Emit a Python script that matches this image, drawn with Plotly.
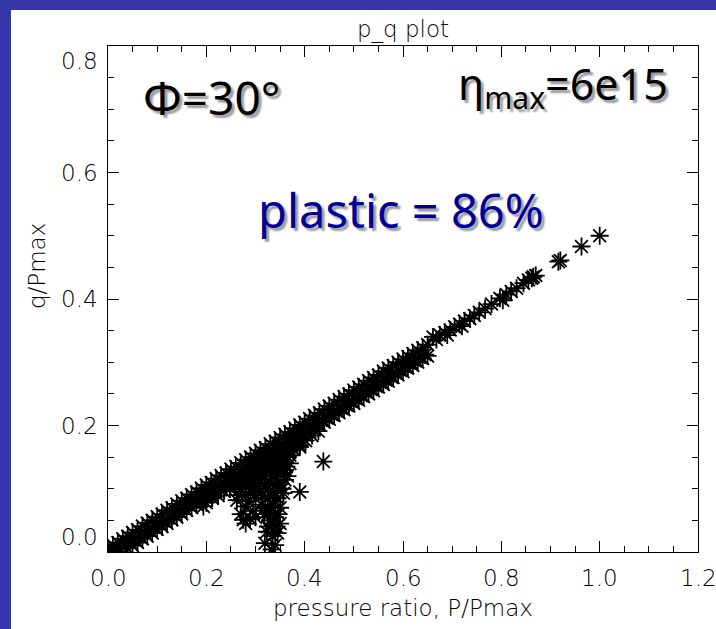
import plotly.graph_objects as go

# ---- data: normalised pressure p = P/Pmax and deviator q/Pmax ----
# upper edge of the main band
p_band_upper = [0.000, 0.010, 0.020, 0.030, 0.040, 0.050, 0.060, 0.070, 0.080, 0.090,
                0.100, 0.110, 0.120, 0.130, 0.140, 0.150, 0.160, 0.170, 0.180, 0.190,
                0.200, 0.210, 0.220, 0.230, 0.240, 0.250, 0.260, 0.270, 0.280, 0.290,
                0.300, 0.310, 0.320, 0.330, 0.340, 0.350, 0.360, 0.370, 0.380, 0.390,
                0.400, 0.410, 0.420, 0.430, 0.440, 0.450, 0.460, 0.470, 0.480, 0.490,
                0.500, 0.510, 0.520, 0.530, 0.540, 0.550, 0.560, 0.570, 0.580, 0.590,
                0.600, 0.610, 0.620, 0.630, 0.640, 0.650]
q_band_upper = [0.005, 0.011, 0.015, 0.021, 0.025, 0.031, 0.035, 0.041, 0.046, 0.050,
                0.056, 0.060, 0.066, 0.070, 0.076, 0.081, 0.085, 0.091, 0.095, 0.101,
                0.106, 0.110, 0.116, 0.121, 0.125, 0.131, 0.135, 0.141, 0.146, 0.150,
                0.156, 0.161, 0.165, 0.171, 0.175, 0.181, 0.186, 0.190, 0.196, 0.201,
                0.205, 0.211, 0.216, 0.220, 0.226, 0.231, 0.235, 0.241, 0.246, 0.250,
                0.256, 0.261, 0.265, 0.271, 0.276, 0.280, 0.286, 0.291, 0.295, 0.300,
                0.305, 0.309, 0.314, 0.319, 0.323, 0.328]

# middle of the main band
p_band_mid = [0.005, 0.015, 0.025, 0.035, 0.045, 0.055, 0.065, 0.075, 0.085, 0.095,
              0.105, 0.115, 0.125, 0.135, 0.145, 0.155, 0.165, 0.175, 0.185, 0.195,
              0.205, 0.215, 0.225, 0.235, 0.245, 0.255, 0.265, 0.275, 0.285, 0.295,
              0.305, 0.315, 0.325, 0.335, 0.345, 0.355, 0.365, 0.375, 0.385, 0.395,
              0.405, 0.415, 0.425, 0.435, 0.445, 0.455, 0.465, 0.475, 0.485, 0.495,
              0.505, 0.515, 0.525, 0.535, 0.545, 0.555, 0.565, 0.575, 0.585, 0.595,
              0.605, 0.615, 0.625, 0.635, 0.645]
q_band_mid = [0.000, 0.001, 0.005, 0.009, 0.015, 0.019, 0.024, 0.030, 0.034, 0.039,
              0.045, 0.049, 0.054, 0.060, 0.064, 0.069, 0.075, 0.079, 0.084, 0.090,
              0.093, 0.099, 0.104, 0.108, 0.113, 0.119, 0.123, 0.128, 0.134, 0.138,
              0.143, 0.149, 0.152, 0.158, 0.163, 0.168, 0.173, 0.178, 0.183, 0.187,
              0.193, 0.197, 0.202, 0.208, 0.212, 0.217, 0.223, 0.227, 0.232, 0.238,
              0.242, 0.247, 0.253, 0.257, 0.262, 0.268, 0.272, 0.277, 0.283, 0.287,
              0.292, 0.298, 0.302, 0.308, 0.312]

# lower edge of the main band
p_band_lower = [0.040, 0.050, 0.060, 0.070, 0.080, 0.090, 0.100, 0.110, 0.120, 0.130,
                0.140, 0.150, 0.160, 0.170, 0.180, 0.190, 0.200, 0.210, 0.220, 0.230,
                0.240, 0.250, 0.260, 0.270, 0.280, 0.290, 0.300, 0.310, 0.320, 0.330,
                0.340, 0.350, 0.360, 0.370, 0.380, 0.390, 0.400, 0.410, 0.420, 0.430,
                0.440, 0.450, 0.460, 0.470, 0.480, 0.490, 0.500, 0.510, 0.520, 0.530,
                0.540, 0.550, 0.560, 0.570, 0.580, 0.590, 0.600, 0.610, 0.620, 0.630,
                0.640, 0.650]
q_band_lower = [0.006, 0.010, 0.015, 0.021, 0.025, 0.030, 0.036, 0.040, 0.045, 0.051,
                0.055, 0.060, 0.066, 0.070, 0.075, 0.081, 0.085, 0.090, 0.096, 0.100,
                0.105, 0.111, 0.115, 0.120, 0.126, 0.130, 0.135, 0.141, 0.145, 0.150,
                0.156, 0.160, 0.165, 0.171, 0.175, 0.180, 0.186, 0.190, 0.195, 0.201,
                0.205, 0.210, 0.216, 0.220, 0.225, 0.231, 0.235, 0.240, 0.246, 0.250,
                0.255, 0.261, 0.265, 0.270, 0.276, 0.280, 0.285, 0.291, 0.295, 0.300,
                0.306, 0.310]

# thickened part of the band
p_band_thick = [0.200, 0.212, 0.224, 0.236, 0.248, 0.258, 0.268, 0.278, 0.288, 0.298,
                0.308, 0.318, 0.328, 0.338, 0.348, 0.358, 0.368, 0.378, 0.390, 0.402,
                0.415, 0.428]
q_band_thick = [0.078, 0.085, 0.089, 0.096, 0.100, 0.105, 0.108, 0.114, 0.118, 0.122,
                0.127, 0.131, 0.136, 0.141, 0.146, 0.151, 0.157, 0.162, 0.169, 0.176,
                0.184, 0.191]

# points that dropped below the band
p_cluster = [0.194, 0.262, 0.265, 0.270, 0.275, 0.280, 0.289, 0.290, 0.296, 0.300,
             0.305, 0.309, 0.312, 0.318, 0.319, 0.323, 0.326, 0.330, 0.333, 0.335,
             0.337, 0.340, 0.342, 0.343, 0.345, 0.347, 0.350, 0.350, 0.352, 0.355,
             0.357, 0.360, 0.363, 0.365, 0.370, 0.372, 0.390, 0.390, 0.438, 0.333,
             0.325, 0.330, 0.340, 0.335, 0.320, 0.345, 0.340, 0.330, 0.350, 0.328,
             0.318, 0.310, 0.300, 0.290, 0.280, 0.270, 0.355, 0.360, 0.345, 0.325,
             0.260, 0.270, 0.280, 0.290, 0.300, 0.310, 0.320, 0.330, 0.340, 0.350,
             0.360, 0.365, 0.370, 0.300, 0.310, 0.320, 0.330, 0.340, 0.350, 0.360,
             0.370, 0.375, 0.380, 0.325, 0.335, 0.345, 0.355, 0.340, 0.330, 0.345,
             0.335, 0.325, 0.315, 0.320, 0.310, 0.280, 0.285, 0.270, 0.280, 0.295,
             0.300]
q_cluster = [0.072, 0.082, 0.090, 0.100, 0.051, 0.072, 0.053, 0.095, 0.109, 0.085,
             0.100, 0.114, 0.075, 0.060, 0.014, 0.032, 0.061, 0.090, 0.045, 0.120,
             0.075, 0.011, 0.140, 0.040, 0.100, 0.060, 0.045, 0.140, 0.160, 0.125,
             0.093, 0.114, 0.135, 0.150, 0.153, 0.170, 0.166, 0.095, 0.143, 0.004,
             0.100, 0.130, 0.080, 0.150, 0.120, 0.125, 0.105, 0.065, 0.070, 0.150,
             0.135, 0.130, 0.120, 0.115, 0.110, 0.115, 0.155, 0.165, 0.165, 0.155,
             0.105, 0.100, 0.105, 0.100, 0.105, 0.110, 0.105, 0.110, 0.120, 0.110,
             0.130, 0.120, 0.140, 0.135, 0.145, 0.125, 0.140, 0.135, 0.150, 0.145,
             0.160, 0.175, 0.180, 0.085, 0.095, 0.085, 0.100, 0.055, 0.050, 0.030,
             0.025, 0.040, 0.090, 0.070, 0.095, 0.090, 0.080, 0.060, 0.045, 0.065,
             0.055]

# sparse high-pressure tail
p_tail = [0.661, 0.668, 0.675, 0.685, 0.690, 0.696, 0.705, 0.715, 0.720, 0.725,
          0.736, 0.745, 0.755, 0.767, 0.780, 0.797, 0.803, 0.810, 0.820, 0.831,
          0.845, 0.855, 0.862, 0.865, 0.870, 0.916, 0.920, 0.963, 1.000]
q_tail = [0.340, 0.336, 0.343, 0.347, 0.343, 0.351, 0.356, 0.360, 0.357, 0.365,
          0.369, 0.374, 0.379, 0.385, 0.392, 0.401, 0.398, 0.407, 0.412, 0.417,
          0.425, 0.430, 0.433, 0.435, 0.437, 0.459, 0.461, 0.483, 0.500]

x_tick_vals = [0.0, 0.2, 0.4, 0.6, 0.8, 1.0, 1.2]
x_tick_text = ["0.0", "0.2", "0.4", "0.6", "0.8", "1.0", "1.2"]
y_tick_vals = [0.0, 0.2, 0.4, 0.6, 0.8]
y_tick_text = ["0.0", "0.2", "0.4", "0.6", "0.8"]

# ---- figure ----
W, H = 716, 629
L, R, T, B = 108, 18, 46, 77
PW, PH = W - L - R, H - T - B


def px_x(x):
    return (x - L) / PW


def px_y(y):
    return (H - B - y) / PH


p_all = p_band_upper + p_band_mid + p_band_lower + p_band_thick + p_cluster + p_tail
q_all = q_band_upper + q_band_mid + q_band_lower + q_band_thick + q_cluster + q_tail

fig = go.Figure(go.Scatter(
    x=p_all, y=q_all, mode="markers",
    marker=dict(symbol="asterisk-open", size=15, color="black",
                line=dict(color="black", width=1.8)),
    hoverinfo="skip", showlegend=False,
))

axis_font = dict(family="DejaVu Sans", size=23, color="black", weight=200)
big_font = "Noto Sans"
shadow = "3px 3px 2px #9a9a9a"

annotations = []
for v, t in zip(x_tick_vals, x_tick_text):
    annotations.append(dict(x=v, y=0, xref="x", yref="paper", text=t,
                            showarrow=False, xanchor="center", yanchor="top",
                            yshift=-11, font=axis_font))
for v, t in zip(y_tick_vals, y_tick_text):
    anchor = "bottom" if v == y_tick_vals[0] else ("top" if v == y_tick_vals[-1] else "middle")
    annotations.append(dict(x=0, y=v, xref="paper", yref="y", text=t,
                            showarrow=False, xanchor="right", yanchor=anchor,
                            xshift=-8, font=axis_font))

annotations += [
    dict(x=0.5, y=px_y(30), xref="paper", yref="paper", text="p_q plot",
         showarrow=False, xanchor="center", yanchor="middle", font=axis_font),
    dict(x=0.5, y=px_y(608), xref="paper", yref="paper", text="pressure ratio, P/Pmax",
         showarrow=False, xanchor="center", yanchor="middle", font=axis_font),
    dict(x=px_x(37), y=px_y(266), xref="paper", yref="paper", text="q/Pmax",
         showarrow=False, xanchor="center", yanchor="middle", textangle=-90,
         font=axis_font),
    dict(x=px_x(141), y=px_y(97), xref="paper", yref="paper", text="Φ=30°",
         showarrow=False, xanchor="left", yanchor="middle",
         font=dict(family=big_font, size=46, color="black", shadow=shadow)),
    dict(x=px_x(670), y=px_y(86), xref="paper", yref="paper",
         text="η<sub>max</sub>=6e15",
         showarrow=False, xanchor="right", yanchor="middle",
         font=dict(family=big_font, size=43, color="black", shadow=shadow)),
    dict(x=px_x(401), y=px_y(210), xref="paper", yref="paper", text="plastic = 86%",
         showarrow=False, xanchor="center", yanchor="middle",
         font=dict(family=big_font, size=47, color="#000099", shadow=shadow)),
]

axis_common = dict(showgrid=False, zeroline=False, showline=True, linecolor="black",
                   linewidth=1, mirror="allticks", ticks="inside", ticklen=11,
                   tickwidth=1, tickcolor="black", showticklabels=False, dtick=0.2,
                   tick0=0,
                   minor=dict(ticks="inside", ticklen=6, tickwidth=1,
                              tickcolor="black", dtick=0.05, showgrid=False))

fig.update_layout(
    width=W, height=H, autosize=False,
    margin=dict(l=L, r=R, t=T, b=B, pad=0),
    paper_bgcolor="#3636aa", plot_bgcolor="white",
    xaxis=dict(range=[0, 1.2], **axis_common),
    yaxis=dict(range=[0, 0.8], **axis_common),
    annotations=annotations,
    shapes=[dict(type="rect", xref="paper", yref="paper", layer="below",
                 x0=px_x(11), x1=px_x(W + 2), y0=px_y(H + 2), y1=px_y(10),
                 fillcolor="white", line=dict(width=0))],
)

fig.write_html("out.html", config={"displayModeBar": False})
